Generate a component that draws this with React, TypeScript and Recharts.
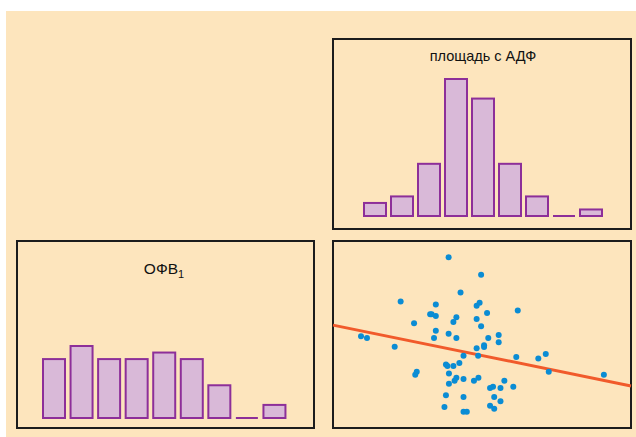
import React from 'react';
import { BarChart, Bar, XAxis, YAxis, ScatterChart, Scatter } from 'recharts';

const bins = ['1', '2', '3', '4', '5', '6', '7', '8', '9'];
const areaCounts = [2, 3, 8, 21, 18, 8, 3, 0, 1];
const fevCounts = [9, 11, 9, 9, 10, 9, 5, 0, 2];

const pointX = [
  38.8, 49.7, 42.8, 22.7, 34.5, 49.2, 48.2, 62.0, 32.6, 33.1, 34.5, 51.7, 41.4, 40.4, 48.2, 27.2,
  49.7, 34.5, 38.8, 33.9, 41.4, 52.1, 55.6, 55.6, 50.7, 50.7, 48.2, 9.4, 11.4, 20.7, 43.8, 48.7,
  61.5, 68.9, 71.4, 37.9, 38.4, 40.4, 42.4, 72.4, 90.9, 28.1, 27.6, 38.9, 41.4, 40.8, 43.8, 47.3,
  48.8, 38.9, 57.5, 60.5, 53.7, 52.7, 56.2, 37.9, 43.8, 54.1, 56.2, 37.4, 52.7, 54.1, 43.8, 44.9,
];
const pointY = [
  91.3, 82.0, 72.5, 67.7, 66.1, 67.0, 65.4, 62.9, 60.8, 60.8, 59.9, 61.5, 59.2, 56.7, 58.3, 56.0,
  54.4, 52.0, 50.4, 48.1, 48.1, 48.1, 49.7, 45.8, 44.2, 43.3, 42.6, 49.0, 48.1, 43.5, 38.7, 38.7,
  38.0, 37.1, 39.6, 34.0, 33.2, 33.2, 34.8, 30.1, 28.5, 30.1, 28.5, 29.2, 26.9, 25.3, 26.2, 25.3,
  26.9, 23.7, 25.3, 22.1, 22.1, 21.4, 21.4, 17.5, 16.6, 16.6, 14.3, 11.2, 11.9, 10.3, 8.7, 8.7,
];
const fitX = [0, 100];
const fitY = [55, 22.5];

const BG = '#fde5bd';
const BAR_FILL = '#d9b9d8';
const BAR_STROKE = '#8d2f99';
const DOT = '#0a8cd4';
const FIT = '#f15a2b';
const FRAME = '#1c1c1c';

const areaData = bins.map((b, i) => ({ bin: b, count: areaCounts[i] }));
const fevData = bins.map((b, i) => ({ bin: b, count: fevCounts[i] }));
const points = pointX.map((x, i) => ({ x, y: pointY[i] }));
const fitLine = fitX.map((x, i) => ({ x, y: fitY[i] }));

function HistBar(props: any) {
  const { x, y, width, height } = props;
  if (!height) {
    return <line x1={x} x2={x + width} y1={y} y2={y} stroke={BAR_STROKE} strokeWidth={2} />;
  }
  return <rect x={x} y={y} width={width} height={height} fill={BAR_FILL} stroke={BAR_STROKE} strokeWidth={2} />;
}

function Dot(props: any) {
  return <circle cx={props.cx} cy={props.cy} r={3} fill={DOT} />;
}

const frame = (left: number, top: number, width: number, height: number) => ({
  position: 'absolute' as const,
  left,
  top,
  width,
  height,
  border: `2px solid ${FRAME}`,
  boxSizing: 'border-box' as const,
});

const at = (left: number, top: number) => ({ position: 'absolute' as const, left, top });

export default function App() {
  return (
    <div style={{ position: 'absolute', left: 0, top: 0, width: 636, height: 437, background: '#fff', overflow: 'hidden' }}>
      <div style={{ position: 'absolute', left: 6, top: 11, width: 630, height: 426, background: BG }} />

      {/* histogram: площадь с АДФ */}
      <div style={frame(332, 38, 300, 192)} />
      <div style={at(332, 38)}>
        <BarChart width={300} height={192} data={areaData} margin={{ top: 41, right: 28, bottom: 14, left: 29 }}>
          <XAxis dataKey="bin" hide />
          <YAxis hide domain={[0, 21]} />
          <Bar dataKey="count" barSize={22} shape={HistBar} isAnimationActive={false} />
        </BarChart>
      </div>

      {/* histogram: ОФВ1 */}
      <div style={frame(16, 240, 299, 189)} />
      <div style={at(16, 240)}>
        <BarChart width={299} height={189} data={fevData} margin={{ top: 106, right: 27, bottom: 11, left: 24 }}>
          <XAxis dataKey="bin" hide />
          <YAxis hide domain={[0, 11]} />
          <Bar dataKey="count" barSize={22} shape={HistBar} isAnimationActive={false} />
        </BarChart>
      </div>

      {/* scatter with regression line */}
      <div style={frame(332, 240, 300, 189)} />
      <div style={at(332, 240)}>
        <ScatterChart width={300} height={189} margin={{ top: 1, right: 1, bottom: 1, left: 1 }}>
          <XAxis type="number" dataKey="x" domain={[0, 100]} hide />
          <YAxis type="number" dataKey="y" domain={[0, 100]} hide />
          <Scatter data={fitLine} line={{ stroke: FIT, strokeWidth: 3 }} shape={() => <g />} isAnimationActive={false} />
          <Scatter data={points} shape={Dot} isAnimationActive={false} />
        </ScatterChart>
      </div>

      <svg width={636} height={437} style={{ position: 'absolute', left: 0, top: 0, pointerEvents: 'none' }}>
        <text x={483} y={61} textAnchor="middle" fontFamily="'Liberation Sans', Arial, sans-serif" fontSize={14.5} fill="#111">
          площадь с АДФ
        </text>
        <text x={164} y={274} textAnchor="middle" fontFamily="'Liberation Sans', Arial, sans-serif" fontSize={15.5} fill="#111">
          ОФВ<tspan fontSize={11} dy={4}>1</tspan>
        </text>
      </svg>
    </div>
  );
}
